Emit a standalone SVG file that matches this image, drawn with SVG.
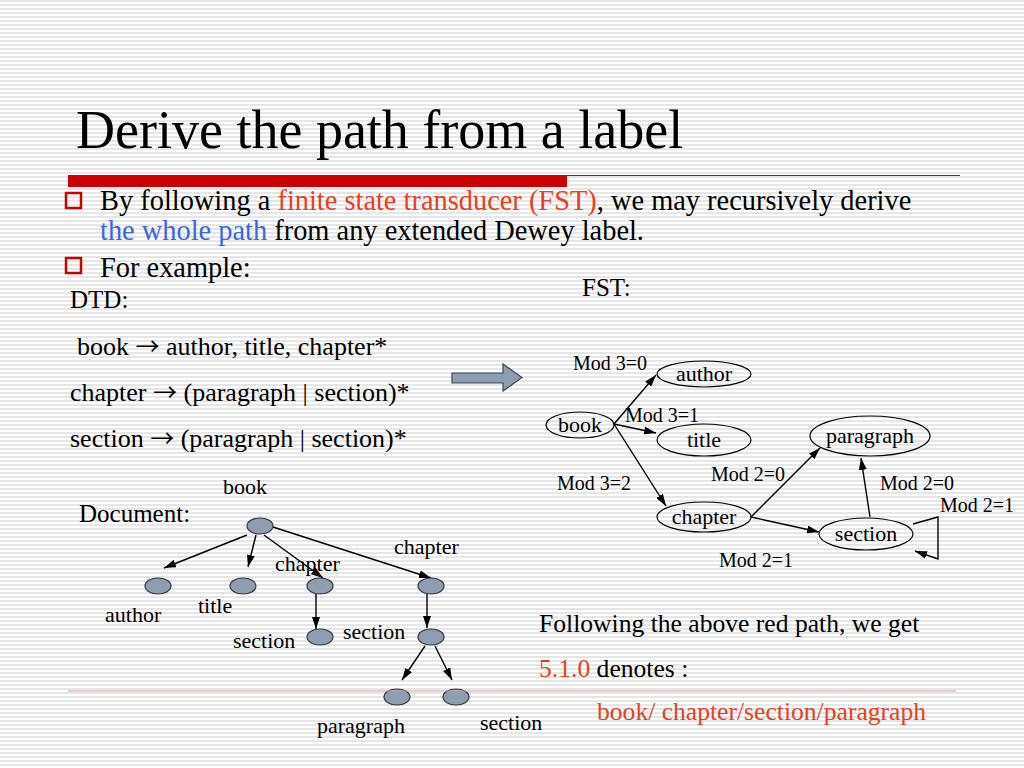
<svg xmlns="http://www.w3.org/2000/svg" width="1024" height="768" viewBox="0 0 1024 768">
<defs>
<pattern id="stripes" x="0" y="0" width="8" height="4" patternUnits="userSpaceOnUse">
<rect x="0" y="0" width="8" height="2" fill="#e6e6e6"/>
</pattern>
<marker id="ah" viewBox="0 0 12 8" refX="12" refY="4" markerWidth="12" markerHeight="8" markerUnits="userSpaceOnUse" orient="auto">
<path d="M0,0 L12,4 L0,8 z" fill="#000"/>
</marker>
<style>
text{font-family:"Liberation Serif","Times New Roman",serif;fill:#000}
.red{fill:#e8401c}
.blue{fill:#3a66e0}
.arr{font-family:"Noto Sans CJK JP","Liberation Serif",sans-serif;font-size:24px}
.fstn{fill:none;stroke:#000;stroke-width:1.2}
.edge{fill:none;stroke:#000;stroke-width:1.4;marker-end:url(#ah)}
.dn{fill:#8f9db0;stroke:#2d3540;stroke-width:1.2}
.nl{font-size:22px;text-anchor:middle}
.ml{font-size:20px}
.dl{font-size:22px}
.dtd{font-size:26px}
.bbox{fill:none;stroke:#cc0000;stroke-width:2.5}
</style>
</defs>
<rect width="1024" height="768" fill="#ffffff"/>
<rect width="1024" height="768" fill="url(#stripes)"/>

<text x="76" y="148" font-size="54">Derive the path from a label</text>
<rect x="68" y="175" width="499" height="12" fill="#cc0000"/>
<line x1="567" y1="175.5" x2="960" y2="175.5" stroke="#cc0000" stroke-width="1.2"/>

<rect class="bbox" x="66" y="193" width="15" height="15"/>
<text x="100" y="210" font-size="28.4">By following a <tspan class="red">finite state transducer (FST)</tspan>, we may recursively derive</text>
<text x="100" y="240" font-size="28.4"><tspan class="blue">the whole path</tspan> from any extended Dewey label.</text>
<rect class="bbox" x="66" y="258" width="15" height="15"/>
<text x="100" y="277" font-size="28.4">For example:</text>

<text x="70" y="308" font-size="25">DTD:</text>
<text class="dtd" x="77" y="355">book <tspan class="arr">→</tspan> author, title, chapter*</text>
<text class="dtd" x="70" y="401">chapter <tspan class="arr">→</tspan> (paragraph | section)*</text>
<text class="dtd" x="70" y="447">section <tspan class="arr">→</tspan> (paragraph | section)*</text>

<path d="M452,373 L503,373 L503,364 L522,377.5 L503,391 L503,383 L452,383 z" fill="#8f9db0" stroke="#3a4656" stroke-width="1.2"/>

<text x="582" y="296" font-size="25">FST:</text>

<g id="fst-edges">
<line class="edge" x1="614" y1="424" x2="656" y2="375"/>
<line class="edge" x1="614" y1="424" x2="656" y2="433"/>
<line class="edge" x1="614" y1="424" x2="666" y2="506"/>
<line class="edge" x1="751" y1="517" x2="820" y2="448"/>
<line class="edge" x1="751" y1="517" x2="819" y2="532"/>
<line class="edge" x1="870" y1="517" x2="861" y2="458"/>
<polyline class="edge" points="913,524 938,517 938,559 915,551"/>
</g>
<g id="fst-book"><ellipse class="fstn" cx="580" cy="425" rx="34" ry="13"/><text class="nl" x="580" y="432">book</text></g>
<g id="fst-author"><ellipse class="fstn" cx="704" cy="374" rx="47" ry="13"/><text class="nl" x="704" y="381">author</text></g>
<g id="fst-title"><ellipse class="fstn" cx="704" cy="440" rx="47" ry="16"/><text class="nl" x="704" y="447">title</text></g>
<g id="fst-paragraph"><ellipse class="fstn" cx="870" cy="436" rx="60" ry="20"/><text class="nl" x="870" y="443">paragraph</text></g>
<g id="fst-chapter"><ellipse class="fstn" cx="704" cy="517" rx="47" ry="15"/><text class="nl" x="704" y="524">chapter</text></g>
<g id="fst-section"><ellipse class="fstn" cx="866" cy="534" rx="47" ry="16"/><text class="nl" x="866" y="541">section</text></g>
<g id="fst-labels">
<text class="ml" x="573" y="370">Mod 3=0</text>
<text class="ml" x="625" y="422">Mod 3=1</text>
<text class="ml" x="557" y="490">Mod 3=2</text>
<text class="ml" x="711" y="481">Mod 2=0</text>
<text class="ml" x="880" y="490">Mod 2=0</text>
<text class="ml" x="940" y="512">Mod 2=1</text>
<text class="ml" x="719" y="567">Mod 2=1</text>
</g>

<text x="79" y="522" font-size="25">Document:</text>
<g id="doc-edges">
<line class="edge" x1="247" y1="535" x2="164" y2="568"/>
<line class="edge" x1="256" y1="535" x2="248" y2="567"/>
<line class="edge" x1="264" y1="535" x2="323" y2="578"/>
<line class="edge" x1="273" y1="527" x2="431" y2="578"/>
<line class="edge" x1="316" y1="594" x2="316" y2="629"/>
<line class="edge" x1="427" y1="594" x2="427" y2="628"/>
<line class="edge" x1="425" y1="646" x2="402" y2="680"/>
<line class="edge" x1="435" y1="646" x2="452" y2="680"/>
</g>
<g id="doc-book"><ellipse class="dn" cx="260" cy="526" rx="13" ry="8"/><text class="dl" x="223" y="494">book</text></g>
<g id="doc-author"><ellipse class="dn" cx="158" cy="586" rx="13" ry="8"/><text class="dl" x="105" y="622">author</text></g>
<g id="doc-title"><ellipse class="dn" cx="243" cy="586" rx="13" ry="8"/><text class="dl" x="198" y="613">title</text></g>
<g id="doc-chapter1"><ellipse class="dn" cx="320" cy="586" rx="13" ry="8"/><text class="dl" x="275" y="571">chapter</text></g>
<g id="doc-chapter2"><ellipse class="dn" cx="431" cy="586" rx="13" ry="8"/><text class="dl" x="394" y="554">chapter</text></g>
<g id="doc-section1"><ellipse class="dn" cx="320" cy="637" rx="13" ry="8"/><text class="dl" x="233" y="648">section</text></g>
<g id="doc-section2"><ellipse class="dn" cx="431" cy="637" rx="13" ry="8"/><text class="dl" x="343" y="639">section</text></g>
<g id="doc-paragraph"><ellipse class="dn" cx="397" cy="697" rx="13" ry="8"/><text class="dl" x="317" y="733">paragraph</text></g>
<g id="doc-section3"><ellipse class="dn" cx="456" cy="697" rx="13" ry="8"/><text class="dl" x="480" y="730">section</text></g>

<text x="539" y="632" font-size="25.6">Following the above red path, we get</text>
<text x="539" y="677" font-size="25.6"><tspan class="red">5.1.0</tspan> denotes :</text>
<line x1="68" y1="691" x2="956" y2="691" stroke="#d89a9a" stroke-width="1"/>
<text class="red" x="597" y="720" font-size="25.6">book/ chapter/section/paragraph</text>
</svg>
